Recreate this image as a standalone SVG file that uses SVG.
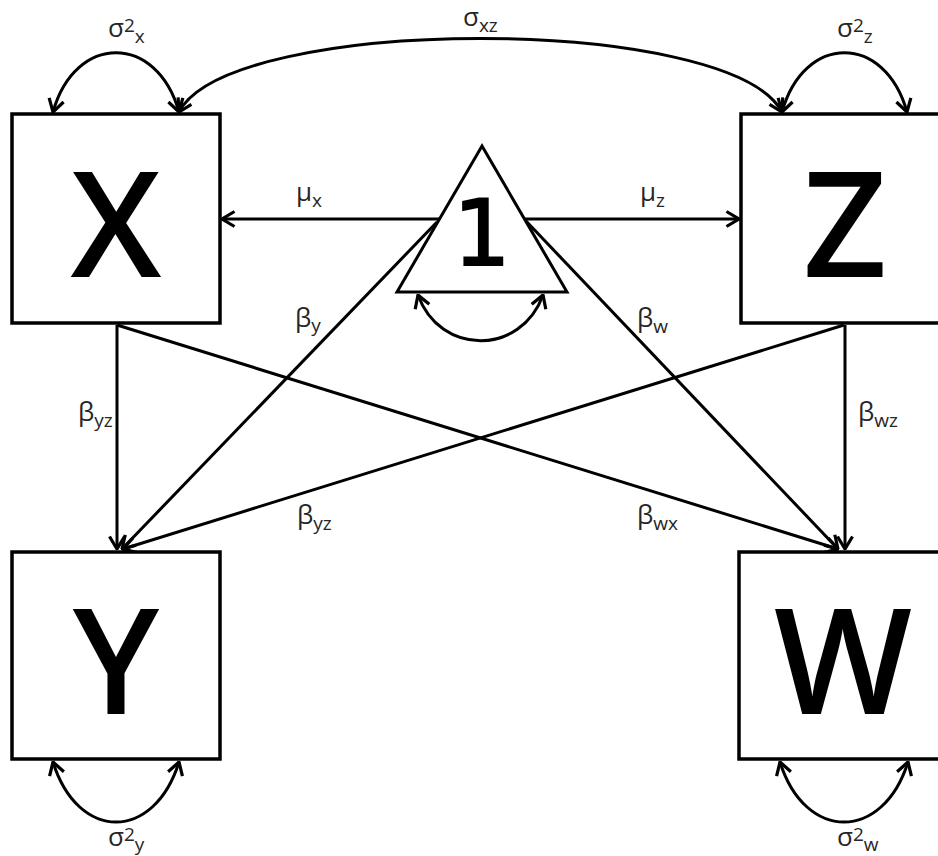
<svg xmlns="http://www.w3.org/2000/svg" width="938" height="856" viewBox="0 0 938 856">
<style>
.box{fill:#fff;stroke:#000;stroke-width:3.5}
.big{font-family:"Open Sans","Liberation Sans",sans-serif;font-size:146px;font-weight:600;fill:#000;text-anchor:middle}
.one{font-family:"DejaVu Sans","Open Sans",sans-serif;font-size:90px;fill:#000;stroke:#000;stroke-width:2;text-anchor:middle}
.ln{fill:none;stroke:#000;stroke-width:3}
.lbl{font-family:"Open Sans","Liberation Sans",sans-serif;font-size:26px;fill:#262626}
.s{font-size:19px}
</style>
<defs>
<marker id="arr" viewBox="0 0 15 18" refX="14" refY="9" markerWidth="15" markerHeight="18" markerUnits="userSpaceOnUse" orient="auto-start-reverse">
<path d="M1.5,1.5 L14,9 L1.5,16.5" fill="none" stroke="#000" stroke-width="3.2"/>
</marker>
</defs>
<rect width="938" height="856" fill="#fff"/>
<g id="connectors">
<line class="ln" x1="482" y1="219" x2="222" y2="219" marker-end="url(#arr)"/>
<line class="ln" x1="482" y1="219" x2="739" y2="219" marker-end="url(#arr)"/>
<line class="ln" x1="437" y1="222" x2="122" y2="549" marker-end="url(#arr)"/>
<line class="ln" x1="526" y1="221" x2="838" y2="549" marker-end="url(#arr)"/>
<line class="ln" x1="117" y1="325" x2="117" y2="549" marker-end="url(#arr)"/>
<line class="ln" x1="117" y1="325" x2="838" y2="549" marker-end="url(#arr)"/>
<line class="ln" x1="844" y1="325" x2="123" y2="549" marker-end="url(#arr)"/>
<line class="ln" x1="845" y1="325" x2="845" y2="549" marker-end="url(#arr)"/>
<path class="ln" d="M179,112 C230,14 730,14 782,112" marker-start="url(#arr)" marker-end="url(#arr)"/>
<path class="ln" d="M53,112 C75,33 157,33 179,112" marker-start="url(#arr)" marker-end="url(#arr)"/>
<path class="ln" d="M782,112 C804,33 885,33 907,112" marker-start="url(#arr)" marker-end="url(#arr)"/>
<path class="ln" d="M53,762 C78,842 154,842 179,762" marker-start="url(#arr)" marker-end="url(#arr)"/>
<path class="ln" d="M780,762 C805,842 883,842 908,762" marker-start="url(#arr)" marker-end="url(#arr)"/>
<path class="ln" d="M418,295 C440,356 521,356 543,295" marker-start="url(#arr)" marker-end="url(#arr)"/>
</g>
<g id="node-X">
<rect class="box" x="12" y="114" width="208" height="209"/>
<text class="big" x="116" y="277">X</text>
</g>
<g id="node-Z">
<rect class="box" x="741" y="114" width="208" height="209"/>
<text class="big" x="845" y="277">Z</text>
</g>
<g id="node-Y">
<rect class="box" x="12" y="552" width="208" height="207"/>
<text class="big" x="116" y="714">Y</text>
</g>
<g id="node-W">
<rect class="box" x="739" y="552" width="208" height="207"/>
<text class="big" x="843" y="714">W</text>
</g>
<g id="node-1">
<polygon points="482,146 397,292 567,292" fill="#fff" stroke="#000" stroke-width="3"/>
<text class="one" x="482" y="265">1</text>
</g>
<g id="labels">
<text class="lbl" x="108" y="37">σ<tspan class="s" dy="-5">2</tspan><tspan class="s" dy="11">x</tspan></text>
<text class="lbl" x="837" y="37">σ<tspan class="s" dy="-5">2</tspan><tspan class="s" dy="11">z</tspan></text>
<text class="lbl" x="463" y="26">σ<tspan class="s" dy="6">xz</tspan></text>
<text class="lbl" x="296" y="201">μ<tspan class="s" dy="6">x</tspan></text>
<text class="lbl" x="640" y="201">μ<tspan class="s" dy="6">z</tspan></text>
<text class="lbl" x="295" y="327">β<tspan class="s" dy="5">y</tspan></text>
<text class="lbl" x="637" y="327">β<tspan class="s" dy="6">w</tspan></text>
<text class="lbl" x="78" y="421">β<tspan class="s" dy="6">yz</tspan></text>
<text class="lbl" x="858" y="421">β<tspan class="s" dy="6">wz</tspan></text>
<text class="lbl" x="297" y="524">β<tspan class="s" dy="6">yz</tspan></text>
<text class="lbl" x="637" y="524">β<tspan class="s" dy="6">wx</tspan></text>
<text class="lbl" x="108" y="846">σ<tspan class="s" dy="-5">2</tspan><tspan class="s" dy="10">y</tspan></text>
<text class="lbl" x="837" y="846">σ<tspan class="s" dy="-5">2</tspan><tspan class="s" dy="10">w</tspan></text>
</g>
</svg>
